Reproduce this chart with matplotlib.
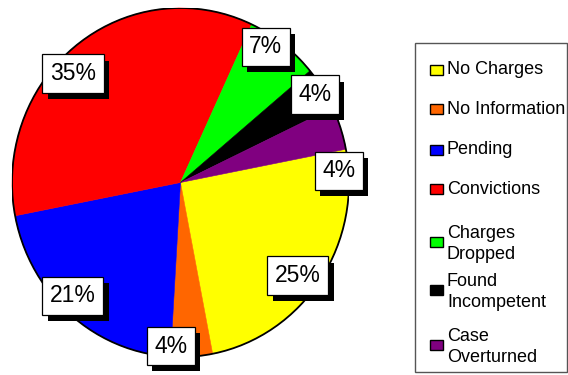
import matplotlib.pyplot as plt
from matplotlib.patches import Rectangle, Circle
import matplotlib.patheffects as pe

plt.rcParams['font.family'] = ['Liberation Sans', 'DejaVu Sans']

# case outcomes, percent of total
categories = ['No Charges', 'No Information', 'Pending', 'Convictions',
              'Charges\nDropped', 'Found\nIncompetent', 'Case\nOverturned']
values = [25, 4, 21, 35, 7, 4, 4]
colors = ['#FFFF00', '#FF6600', '#0000FF', '#FF0000', '#00FF00', '#000000', '#800080']

# where each percent box sits inside the pie (axes data units)
label_pos = [(0.697, -0.533), (-0.056, -0.937), (-0.638, -0.650), (-0.638, 0.625),
             (0.507, 0.777), (0.798, 0.504), (0.941, 0.066)]
# vertical centre of each legend entry, in pixels from the top
legend_y = [70, 109, 150, 189, 244, 292, 347]

W, H = 568, 375
fig = plt.figure(figsize=(W / 100, H / 100), dpi=100)


def fx(x):
    return x / W


def fy(y):
    return 1 - y / H


# pie area (slightly taller than wide)
ax = fig.add_axes([fx(12), fy(357), fx(337), 349 / H])
wedges, _ = ax.pie(values, colors=colors, startangle=11, counterclock=False)
for w, c in zip(wedges, colors):
    w.set_edgecolor(c)
    w.set_linewidth(0.4)
ax.set_aspect('auto')
ax.set_xlim(-1, 1)
ax.set_ylim(-1, 1)
ax.axis('off')
ax.add_patch(Circle((0, 0), 1, fill=False, edgecolor='black', linewidth=1.3, zorder=5))

shadow = [pe.SimplePatchShadow(offset=(3.8, -4.6), shadow_rgbFace='black', alpha=1.0),
          pe.Normal()]
for v, (x, y) in zip(values, label_pos):
    t = ax.text(x, y, f'{v}%', ha='center', va='center', fontsize=16.5, zorder=10,
                bbox=dict(boxstyle='square,pad=0.33', facecolor='white',
                          edgecolor='black', linewidth=0.9))
    t.get_bbox_patch().set_path_effects(shadow)

# legend box on the right
fig.add_artist(Rectangle((fx(415), fy(372)), fx(567) - fx(415), (372 - 43) / H,
                         transform=fig.transFigure, facecolor='white',
                         edgecolor='#555555', linewidth=1.0))
for name, c, yc in zip(categories, colors, legend_y):
    my = yc - 2 if '\n' in name else yc
    fig.add_artist(Rectangle((fx(430), fy(my + 5)), 13 / W, 10 / H,
                             transform=fig.transFigure, facecolor=c,
                             edgecolor='black', linewidth=1.0))
    fig.text(fx(447), fy(yc), name, ha='left', va='center', fontsize=13,
             linespacing=1.35)

fig.savefig('out.png', dpi=100)
